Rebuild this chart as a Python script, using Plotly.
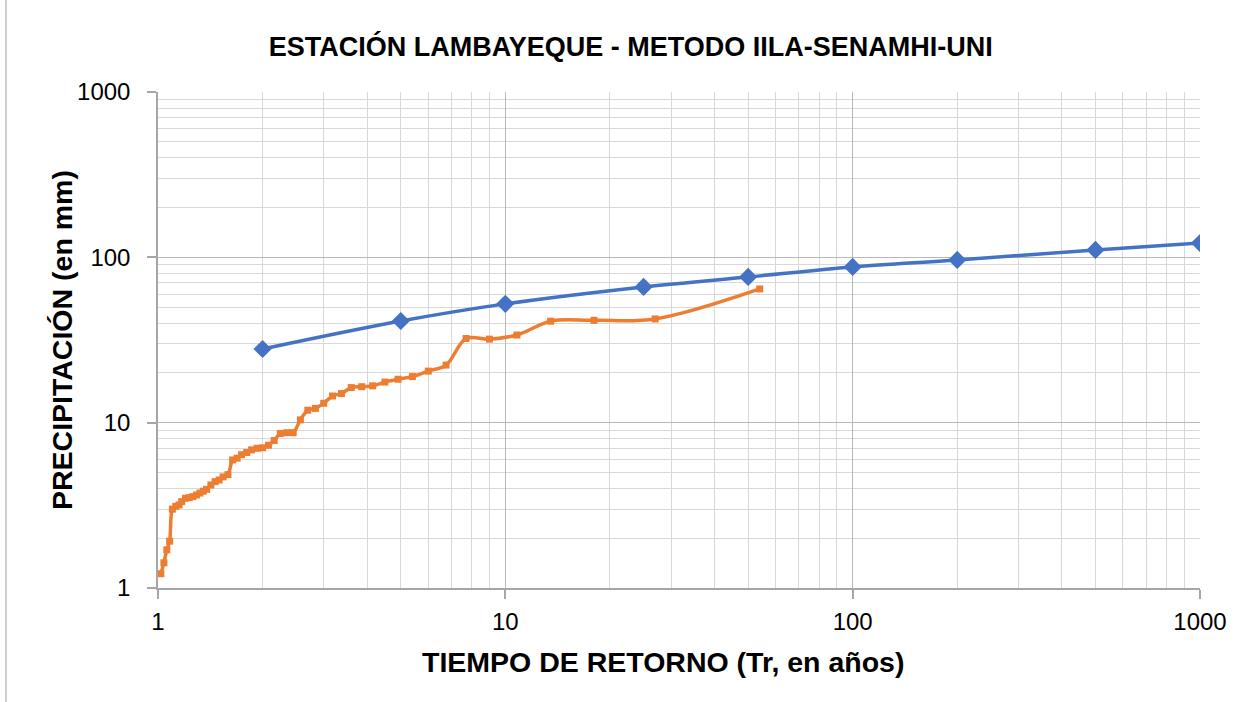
import plotly.graph_objects as go

# Return periods (years) and precipitation (mm)
tr_model = [2, 5, 10, 25, 50, 100, 200, 500, 1000]
p_model = [27.9, 41.2, 52.3, 66.2, 76.1, 87.5, 96.4, 110.8, 122.0]

# Observed series, Weibull plotting positions
tr_obs = [54.0, 27.0, 18.0, 13.5, 10.8, 9.0, 7.71, 6.75, 6.0, 5.4,
          4.91, 4.5, 4.15, 3.86, 3.6, 3.375, 3.18, 3.0, 2.84, 2.7,
          2.57, 2.45, 2.35, 2.25, 2.16, 2.08, 2.0, 1.93, 1.86, 1.8,
          1.74, 1.69, 1.64, 1.59, 1.54, 1.5, 1.46, 1.42, 1.38, 1.35,
          1.32, 1.29, 1.26, 1.23, 1.2, 1.17, 1.15, 1.125, 1.10, 1.08,
          1.06, 1.04, 1.019]
p_obs = [64.4, 42.4, 41.6, 41.1, 33.9, 32.0, 32.3, 22.3, 20.5, 19.0,
         18.3, 17.6, 16.7, 16.5, 16.3, 15.0, 14.5, 13.1, 12.2, 11.9,
         10.4, 8.7, 8.7, 8.6, 7.8, 7.3, 7.05, 7.0, 6.85, 6.6,
         6.4, 6.1, 5.95, 4.85, 4.7, 4.5, 4.4, 4.2, 3.95, 3.85,
         3.75, 3.65, 3.57, 3.52, 3.49, 3.33, 3.18, 3.12, 3.0, 1.92,
         1.70, 1.42, 1.22]

FONT = "Liberation Sans, Arial, sans-serif"
MAJOR = "#b8b8b8"
MINOR = "#d9d9d9"

fig = go.Figure()
fig.add_trace(
    go.Scatter(
        x=tr_model, y=p_model, mode="lines+markers", line_shape="spline",
        line=dict(color="#4472C4", width=3.5),
        marker=dict(symbol="diamond", size=14, color="#4472C4"),
        showlegend=False,
    )
)
fig.add_trace(
    go.Scatter(
        x=tr_obs, y=p_obs, mode="lines+markers", line_shape="spline",
        line=dict(color="#ED7D31", width=3.5),
        marker=dict(symbol="square", size=7, color="#ED7D31"),
        showlegend=False,
    )
)

axis_common = dict(
    type="log",
    dtick=1,
    showline=True,
    linecolor="#a6a6a6",
    linewidth=1.5,
    ticks="outside",
    ticklen=9,
    tickcolor="#a6a6a6",
    tickwidth=1.5,
    showgrid=True,
    gridcolor=MAJOR,
    gridwidth=1.3,
    minor=dict(dtick="D1", showgrid=True, gridcolor=MINOR, gridwidth=1.3, ticks=""),
    tickfont=dict(family=FONT, size=24, color="#000000"),
    zeroline=False,
)

fig.update_xaxes(range=[0, 3], ticklabelstandoff=2, **axis_common)
fig.update_yaxes(range=[0, 3], ticklabelstandoff=12, **axis_common)

# axis titles as annotations so they sit where the original puts them
axis_titles = [
    dict(text="<b>TIEMPO DE RETORNO (Tr, en años)</b>", x=0.485, y=-0.149,
         xanchor="center", yanchor="middle", textangle=0),
    dict(text="<b>PRECIPITACIÓN (en mm)</b>", x=-0.0921, y=0.5,
         xanchor="center", yanchor="middle", textangle=-90),
]
for t in axis_titles:
    fig.add_annotation(
        xref="paper", yref="paper", showarrow=False,
        font=dict(family=FONT, size=28.5, color="#000000"), **t,
    )

fig.update_layout(
    width=1254,
    height=702,
    margin=dict(l=158, r=54, t=92, b=114),
    paper_bgcolor="white",
    plot_bgcolor="white",
    title=dict(
        text="<b>ESTACIÓN LAMBAYEQUE - METODO IILA-SENAMHI-UNI</b>",
        font=dict(family=FONT, size=27, color="#000000"),
        x=0.503, xanchor="center", y=0.933, yanchor="middle",
    ),
    shapes=[
        dict(type="line", xref="paper", yref="paper",
             x0=-0.1459, x1=-0.1459, y0=-0.25, y1=1.2,
             line=dict(color="#bfbfbf", width=1.5)),
    ],
)

fig.write_html(
    "out.html",
    config={"displayModeBar": False},
    post_script="document.body.style.margin='0';",
)
